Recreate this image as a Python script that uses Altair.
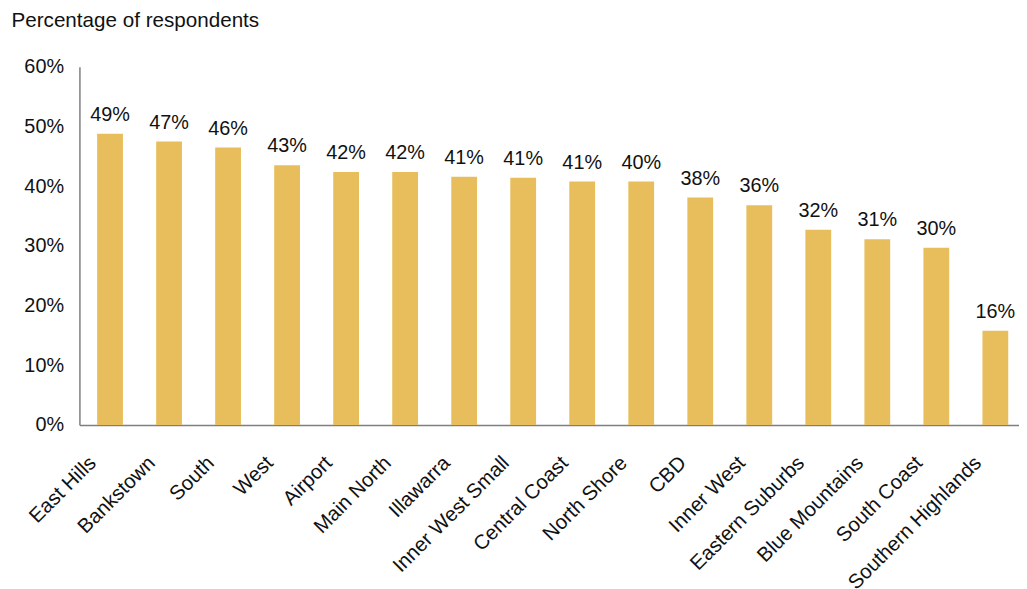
import altair as alt
import pandas as pd

regions = ["East Hills", "Bankstown", "South", "West", "Airport", "Main North",
           "Illawarra", "Inner West Small", "Central Coast", "North Shore", "CBD",
           "Inner West", "Eastern Suburbs", "Blue Mountains", "South Coast",
           "Southern Highlands"]
values = [48.8, 47.5, 46.5, 43.5, 42.4, 42.4, 41.6, 41.4, 40.8, 40.8, 38.1,
          36.8, 32.7, 31.1, 29.7, 15.8]
labels = ["49%", "47%", "46%", "43%", "42%", "42%", "41%", "41%", "41%", "40%",
          "38%", "36%", "32%", "31%", "30%", "16%"]

df = pd.DataFrame({"region": regions, "value": [v / 100 for v in values], "label": labels})

FONT = "Liberation Sans"
BAR = "#E8BE5D"

x = alt.X("region:N", sort=regions,
          scale=alt.Scale(paddingInner=0.563, paddingOuter=0.3),
          axis=alt.Axis(title=None, labelAngle=-45, labelAlign="right",
                        labelBaseline="alphabetic", labelPadding=39, labelOffset=-13,
                        labelFontSize=20.5, labelOverlap=False, labelBound=False,
                        labelFont=FONT, labelColor="#111111", ticks=False,
                        domainColor="#7f7f7f", domainWidth=1.5, labelLimit=400))
y = alt.Y("value:Q", scale=alt.Scale(domain=[0, 0.6], nice=False),
          axis=alt.Axis(format=".0%", values=[0, 0.1, 0.2, 0.3, 0.4, 0.5, 0.6],
                        grid=False, ticks=False, labelFontSize=20, labelFont=FONT,
                        labelColor="#111111", labelPadding=16,
                        domainColor="#7f7f7f", domainWidth=1.5,
                        title="Percentage of respondents", titleAngle=0,
                        titleX=-69, titleY=-47, titleAlign="left",
                        titleBaseline="middle", titleFont=FONT,
                        titleFontSize=20.8, titleFontWeight="normal",
                        titleColor="#111111"))

bars = alt.Chart(df).mark_bar(color=BAR).encode(x=x, y=y)
text = alt.Chart(df).mark_text(baseline="alphabetic", dy=-13, fontSize=20,
                               font=FONT, color="#111111").encode(
    x=alt.X("region:N", sort=regions), y="value:Q", text="label:N")

chart = (bars + text).properties(
    width=954, height=361,
    autosize=alt.AutoSizeParams(type="none"),
    padding={"left": 72, "top": 57, "right": -7, "bottom": 163},
).configure_view(stroke=None)

chart.save("out.html", embed_options={"renderer": "svg", "actions": False})
